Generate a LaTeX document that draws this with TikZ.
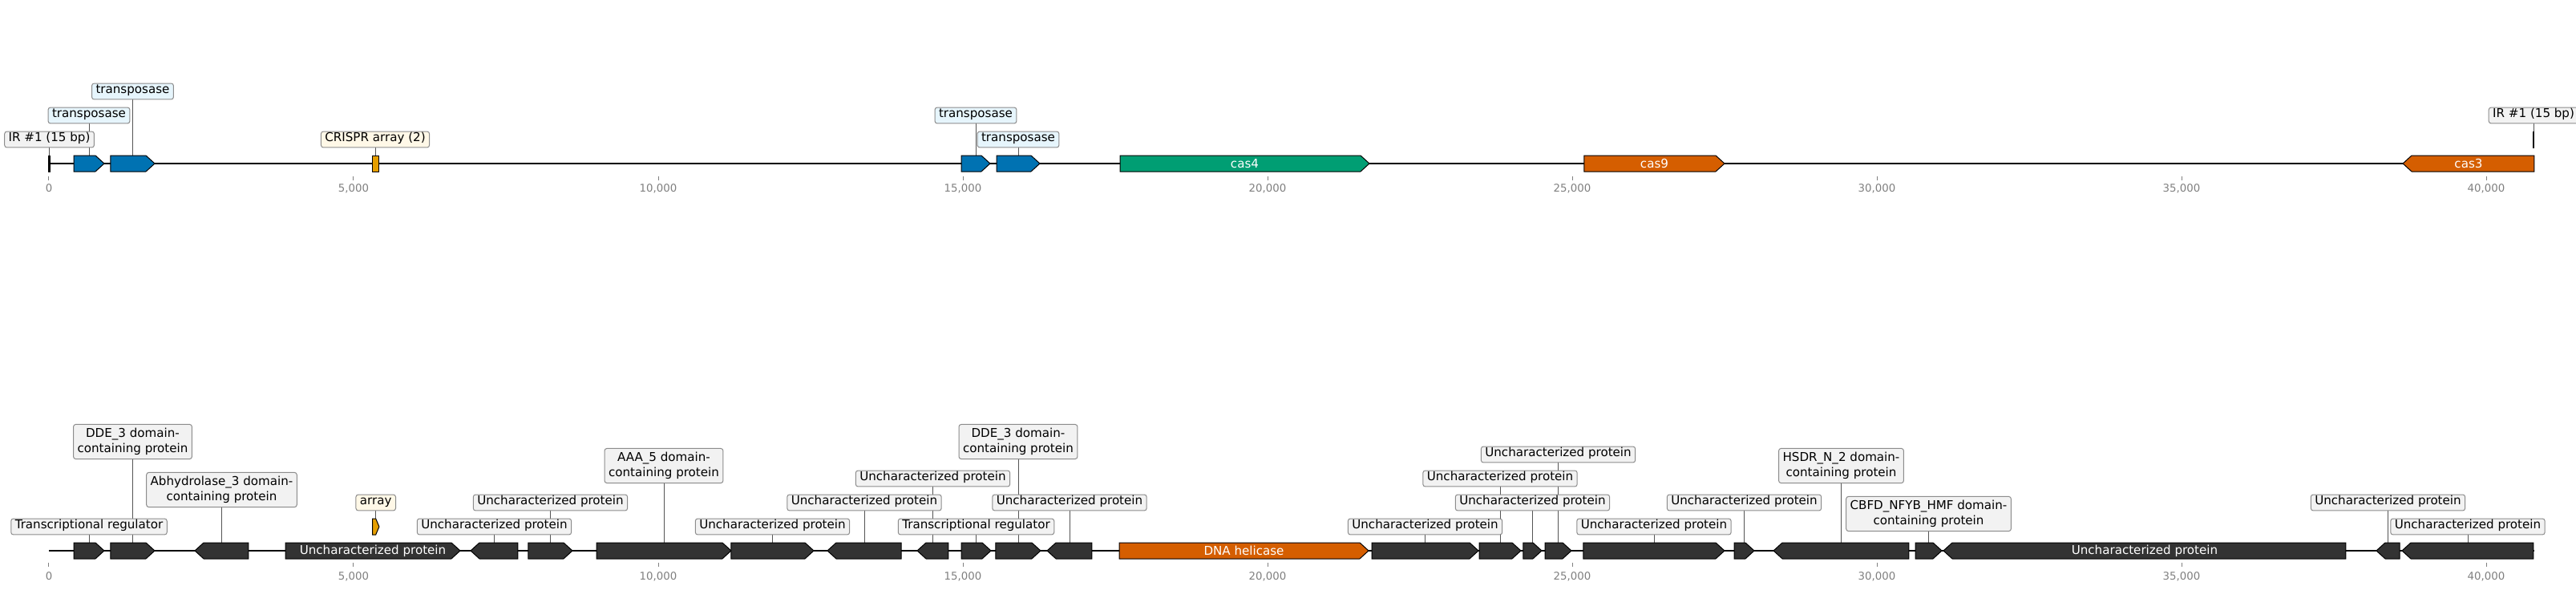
\documentclass[tikz,border=0pt]{standalone}
\usepackage{fontspec}
\setmainfont{DejaVu Sans}
\usepackage{tikz}
\usetikzlibrary{backgrounds}
\usepackage{xcolor}
\definecolor{tpblue}{RGB}{0,114,178}
\definecolor{casgreen}{RGB}{0,158,115}
\definecolor{casorange}{RGB}{213,94,0}
\definecolor{arrayyel}{RGB}{230,159,0}
\definecolor{genegray}{RGB}{51,51,51}
\definecolor{labgray}{RGB}{242,242,242}
\definecolor{labblue}{RGB}{230,245,252}
\definecolor{labyel}{RGB}{255,248,231}
\definecolor{boxline}{RGB}{140,140,140}
\definecolor{axisgray}{RGB}{128,128,128}

% feature: name, start (kbp), end (kbp), strand (1, -1, 0 = box), colour, centre line
\newcommand{\gene}[6]{%
  \pgfmathsetmacro\hd{min(0.145,(#3-#2)/2)}%
  \ifnum#4>0
    \filldraw[gene, fill=#5] (#2,#6-10) -- (#3-\hd,#6-10) -- (#3,#6) -- (#3-\hd,#6+10) -- (#2,#6+10) -- cycle;
  \else\ifnum#4<0
    \filldraw[gene, fill=#5] (#3,#6-10) -- (#2+\hd,#6-10) -- (#2,#6) -- (#2+\hd,#6+10) -- (#3,#6+10) -- cycle;
  \else
    \filldraw[gene, fill=#5] (#2,#6-10) rectangle (#3,#6+10);
  \fi\fi
  \coordinate (#1) at ({(#2+#3)/2},#6-10);
  \coordinate (#1c) at ({(#2+#3)/2},#6);
}

\begin{document}
\begin{tikzpicture}[x=76pt, y=-1pt,
    every node/.style={font=\fontsize{15.1}{18.6}\selectfont},
    gene/.style={draw=black, line width=1pt, line join=miter},
    lab/.style={draw=boxline, line width=1pt, rounded corners=3pt, inner xsep=5pt, inner ysep=5pt, text height=0.75em, text depth=0.245em},
    lab2/.style={draw=boxline, line width=1pt, rounded corners=3pt, inner xsep=5pt, inner ysep=5pt, align=center, fill=labgray},
    inlab/.style={text=white, inner sep=0pt},
    conn/.style={draw={rgb,255:red,85;green,85;blue,85}, line width=0.9pt},
    track/.style={line width=2pt},
    tick/.style={draw=axisgray, line width=1pt},
    ticklab/.style={text=axisgray, font=\fontsize{13.3}{16}\selectfont}]
\useasboundingbox (-0.8026,0) rectangle (41.474,736);
\begin{scope}[on background layer]
\fill[white] (-0.8026,0) rectangle (41.474,736);
\end{scope}

% Top track: CRISPR-Cas region with transposases
\draw[track] (0,204) -- (40.789,204);
\foreach \n/\a/\b/\d/\c in {t1/0.408/0.908/1/tpblue, t2/1.013/1.737/1/tpblue,
    cr/5.303/5.408/0/arrayyel, t3/14.974/15.447/1/tpblue, t4/15.553/16.263/1/tpblue,
    cas4/17.579/21.671/1/casgreen, cas9/25.197/27.5/1/casorange,
    cas3/38.632/40.789/-1/casorange, ira/0/0.015/0/black}
  \gene{\n}{\a}{\b}{\d}{\c}{204};
% second IR sits one level up (overlaps cas3)
\gene{irb}{40.770}{40.785}{0}{black}{174}

\foreach \n in {cas4, cas9, cas3}
  \node[inlab] (l\n) at (\n c) {\n};

\foreach \n/\y/\c/\t in {ira/174/labgray/IR \#1 (15 bp), t1/144/labblue/transposase,
    t2/114/labblue/transposase, cr/174/labyel/CRISPR array (2), t3/144/labblue/transposase,
    t4/174/labblue/transposase, irb/144/labgray/IR \#1 (15 bp)} {
  \node[lab, fill=\c] (l\n) at (\n |- 0,\y) {\t};
  \begin{scope}[on background layer]
  \draw[conn] (l\n) -- (\n);
  \end{scope}
}

% Bottom track: annotated genes
\draw[track] (0,687) -- (40.789,687);
\foreach \n/\a/\b/\d/\c in {b1/0.408/0.908/1/genegray, b2/1.013/1.737/1/genegray,
    b3/2.395/3.276/-1/genegray, b5/3.882/6.75/1/genegray, b6/6.921/7.697/-1/genegray,
    b7/7.868/8.592/1/genegray, b8/8.987/11.197/1/genegray, b9/11.197/12.553/1/genegray,
    b10/12.776/13.987/-1/genegray, b11/14.25/14.763/-1/genegray, b12/14.974/15.461/1/genegray,
    b13/15.539/16.276/1/genegray, b14/16.382/17.118/-1/genegray, hel/17.566/21.658/1/casorange,
    b16/21.711/23.461/1/genegray, b17/23.474/24.158/1/genegray, b18/24.197/24.5/1/genegray,
    b19/24.553/24.987/1/genegray, b20/25.184/27.5/1/genegray, b21/27.658/27.987/1/genegray,
    b22/28.303/30.526/-1/genegray, b23/30.632/31.066/1/genegray, b24/31.092/37.697/-1/genegray,
    b25/38.197/38.579/-1/genegray, b26/38.618/40.776/-1/genegray}
  \gene{\n}{\a}{\b}{\d}{\c}{687};
% small array one level up
\gene{arr}{5.31}{5.42}{1}{arrayyel}{657}

\node[inlab] (lb5) at (b5c) {Uncharacterized protein};
\node[inlab] (lhel) at (helc) {DNA helicase};
\node[inlab] (lb24) at (b24c) {Uncharacterized protein};

\foreach \n/\y/\c/\t in {b1/657/labgray/Transcriptional regulator, arr/627/labyel/array,
    b6/657/labgray/Uncharacterized protein, b7/627/labgray/Uncharacterized protein,
    b9/657/labgray/Uncharacterized protein, b10/627/labgray/Uncharacterized protein,
    b11/597/labgray/Uncharacterized protein, b12/657/labgray/Transcriptional regulator,
    b14/627/labgray/Uncharacterized protein, b16/657/labgray/Uncharacterized protein,
    b17/597/labgray/Uncharacterized protein, b18/627/labgray/Uncharacterized protein,
    b19/567/labgray/Uncharacterized protein, b20/657/labgray/Uncharacterized protein,
    b21/627/labgray/Uncharacterized protein, b25/627/labgray/Uncharacterized protein,
    b26/657/labgray/Uncharacterized protein} {
  \node[lab, fill=\c] (l\n) at (\n |- 0,\y) {\t};
  \begin{scope}[on background layer]
  \draw[conn] (l\n) -- (\n);
  \end{scope}
}
% two-line labels take two levels
\foreach \n/\y/\t in {b2/551/{DDE\_3 domain-\\containing protein},
    b3/611/{Abhydrolase\_3 domain-\\containing protein},
    b8/581/{AAA\_5 domain-\\containing protein},
    b13/551/{DDE\_3 domain-\\containing protein},
    b22/581/{HSDR\_N\_2 domain-\\containing protein},
    b23/641/{CBFD\_NFYB\_HMF domain-\\containing protein}} {
  \node[lab2] (l\n) at (\n |- 0,\y) {\t};
  \begin{scope}[on background layer]
  \draw[conn] (l\n) -- (\n);
  \end{scope}
}

% Axes
\foreach \k in {0,5,...,40} {
  \draw[tick] (\k,219.5) -- (\k,224.5);
  \node[ticklab] (ta\k) at (\k,235) {\ifnum\k=0 0\else\k,000\fi};
  \draw[tick] (\k,702) -- (\k,707);
  \node[ticklab] (tb\k) at (\k,719) {\ifnum\k=0 0\else\k,000\fi};
}
\end{tikzpicture}
\end{document}
